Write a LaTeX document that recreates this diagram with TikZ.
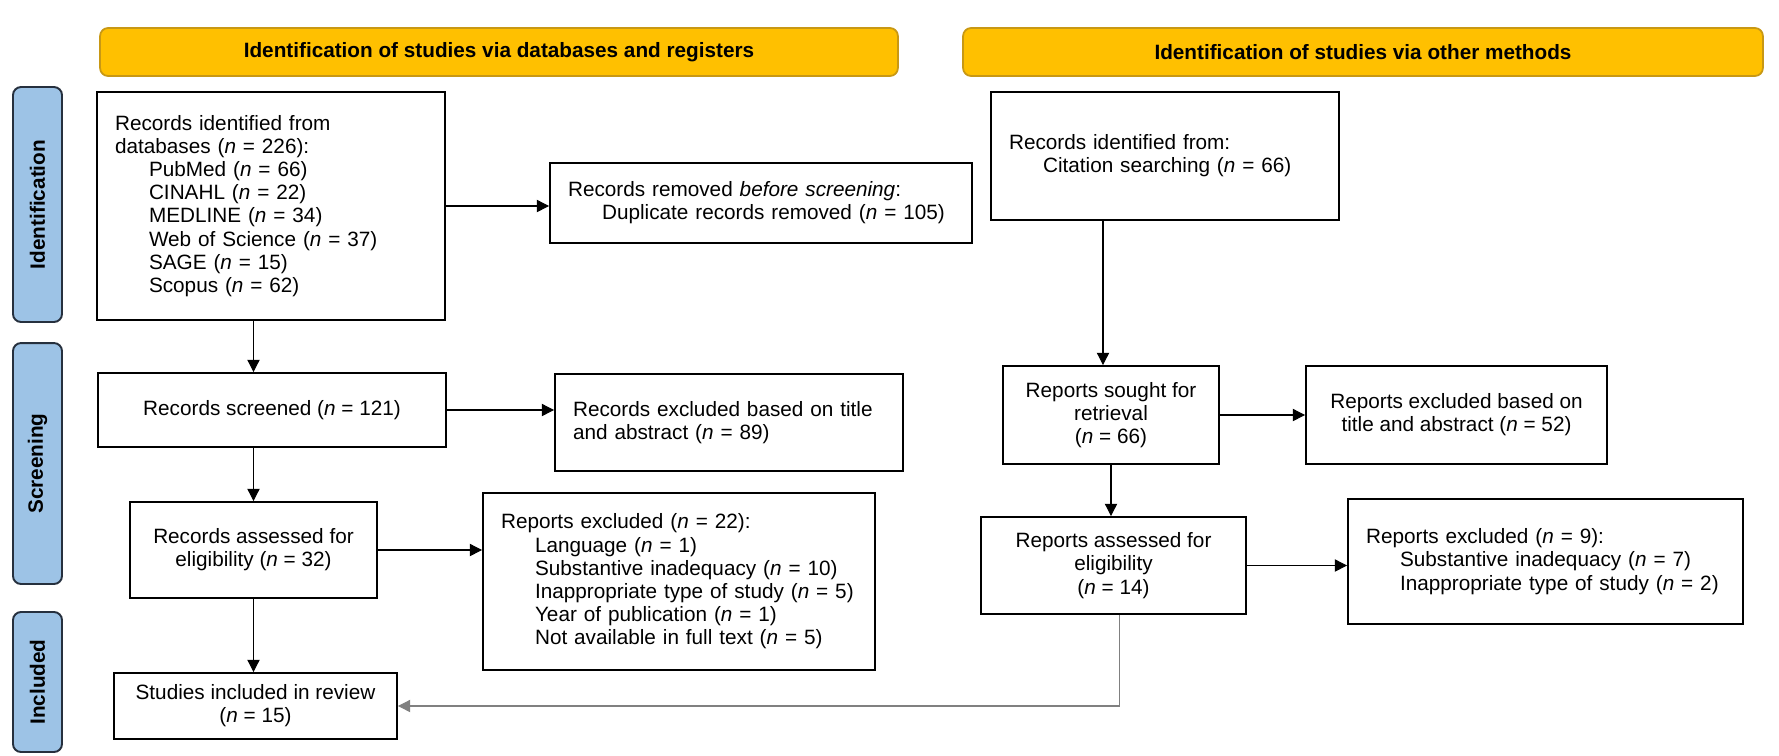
\documentclass[tikz,border=0pt]{standalone}
\usepackage{fontspec}
\setmainfont{Liberation Sans}
\usetikzlibrary{arrows.meta,calc}

\definecolor{giallo}{RGB}{255,192,0}
\definecolor{bordogiallo}{RGB}{200,152,20}
\definecolor{azzurro}{RGB}{157,195,230}
\definecolor{bordoazzurro}{RGB}{38,48,62}
\newcommand{\rientro}{\hspace*{0.68cm}}
\newcommand{\enne}{\textit{n}}

\tikzset{
  blocco/.style={draw, line width=1.1pt, rectangle, inner sep=0pt, align=center,
    font=\fontsize{11.8}{13.2}\selectfont},
  bloccosx/.style={blocco, align=left, inner xsep=0.36cm, text width=#1},
  fase/.style={draw=bordoazzurro, fill=azzurro, line width=1.1pt, rounded corners=0.16cm,
    rotate=90, minimum height=0.98cm, inner sep=0pt,
    font=\bfseries\fontsize{11.8}{13.2}\selectfont},
  testata/.style={draw=bordogiallo, fill=giallo, line width=1pt, rounded corners=0.16cm,
    minimum height=0.96cm, inner sep=0pt,
    font=\bfseries\fontsize{11.8}{13.2}\selectfont},
  freccia/.style={-{Triangle[length=7pt,width=7pt]}, line width=0.6pt},
}

\begin{document}
\begin{tikzpicture}[x=0.02cm, y=-0.02cm]
  \useasboundingbox (0,0) rectangle (1779,755);

  %% intestazioni delle due colonne
  \node [testata, minimum width=15.96cm] (dbreg) at (499,52) {Identification of studies via databases and registers};
  \node [testata, minimum width=16cm] (altri) at (1363,52) {Identification of studies via other methods};

  %% fasi a sinistra
  \node [fase, minimum width=4.7cm] (identif) at (37.5,204.5) {Identification};
  \node [fase, minimum width=4.82cm] (screen) at (37.5,463.5) {Screening};
  \node [fase, minimum width=2.8cm] (incl) at (37.5,682) {Included};

  %% colonna database
  \node [bloccosx=6.24cm, minimum height=4.56cm] (trovati) at (271,206)
    {Records identified from\\ databases (\enne{} = 226):\\
     \rientro PubMed (\enne{} = 66)\\ \rientro CINAHL (\enne{} = 22)\\
     \rientro MEDLINE (\enne{} = 34)\\ \rientro Web of Science (\enne{} = 37)\\
     \rientro SAGE (\enne{} = 15)\\ \rientro Scopus (\enne{} = 62)};
  \node [bloccosx=7.72cm, minimum height=1.6cm] (rimossi) at (761,203)
    {Records removed \textit{before screening}:\\ \rientro Duplicate records removed (\enne{} = 105)};
  \node [blocco, minimum width=6.96cm, minimum height=1.48cm] (screened) at (272,410)
    {Records screened (\enne{} = 121)};
  \node [bloccosx=6.24cm, minimum height=1.94cm] (esclusi) at (729,422.5)
    {Records excluded based on title\\ and abstract (\enne{} = 89)};
  \node [blocco, minimum width=4.94cm, minimum height=1.92cm] (valutati) at (253.5,550)
    {Records assessed for\\ eligibility (\enne{} = 32)};
  \node [bloccosx=7.12cm, minimum height=3.54cm] (reportesclusi) at (679,581.5)
    {Reports excluded (\enne{} = 22):\\ \rientro Language (\enne{} = 1)\\
     \rientro Substantive inadequacy (\enne{} = 10)\\
     \rientro Inappropriate type of study (\enne{} = 5)\\
     \rientro Year of publication (\enne{} = 1)\\
     \rientro Not available in full text (\enne{} = 5)};
  \node [blocco, minimum width=5.66cm, minimum height=1.32cm] (inclusi) at (255.5,706)
    {Studies included in review\\ (\enne{} = 15)};

  %% colonna altri metodi
  \node [bloccosx=6.24cm, minimum height=2.56cm] (citazioni) at (1165,156)
    {Records identified from:\\ \rientro Citation searching (\enne{} = 66)};
  \node [blocco, minimum width=4.32cm, minimum height=1.96cm] (cercati) at (1111,415)
    {Reports sought for\\ retrieval\\ (\enne{} = 66)};
  \node [blocco, minimum width=6.02cm, minimum height=1.96cm] (esclusi2) at (1456.5,415)
    {Reports excluded based on\\ title and abstract (\enne{} = 52)};
  \node [blocco, minimum width=5.3cm, minimum height=1.94cm] (rvalutati) at (1113.5,565.5)
    {Reports assessed for\\ eligibility\\ (\enne{} = 14)};
  \node [bloccosx=7.18cm, minimum height=2.5cm] (reportesclusi2) at (1545.5,561.5)
    {Reports excluded (\enne{} = 9):\\
     \rientro Substantive inadequacy (\enne{} = 7)\\
     \rientro Inappropriate type of study (\enne{} = 2)};

  %% frecce
  \draw [freccia] (trovati.east) -- (trovati.east -| rimossi.west);
  \draw [freccia] (trovati.south -| valutati.north) -- (screened.north -| valutati.north);
  \draw [freccia] (screened.east) -- (screened.east -| esclusi.west);
  \draw [freccia] (screened.south -| valutati.north) -- (valutati.north);
  \draw [freccia] (valutati.east) -- (valutati.east -| reportesclusi.west);
  \draw [freccia] (valutati.south) -- (inclusi.north -| valutati.south);

  \draw [freccia] ($(citazioni.south -| cercati.north)+(-8,0)$) -- ($(cercati.north)+(-8,0)$);
  \draw [freccia] (cercati.east) -- (esclusi2.west);
  \draw [freccia] (cercati.south) -- (rvalutati.north -| cercati.south);
  \draw [freccia] (rvalutati.east) -- (rvalutati.east -| reportesclusi2.west);
  %% ritorno verso gli studi inclusi
  \draw [freccia, draw=gray] ($(rvalutati.south)+(6,0)$) -- ($(rvalutati.south |- inclusi.east)+(6,0)$) -- (inclusi.east);
\end{tikzpicture}
\end{document}
